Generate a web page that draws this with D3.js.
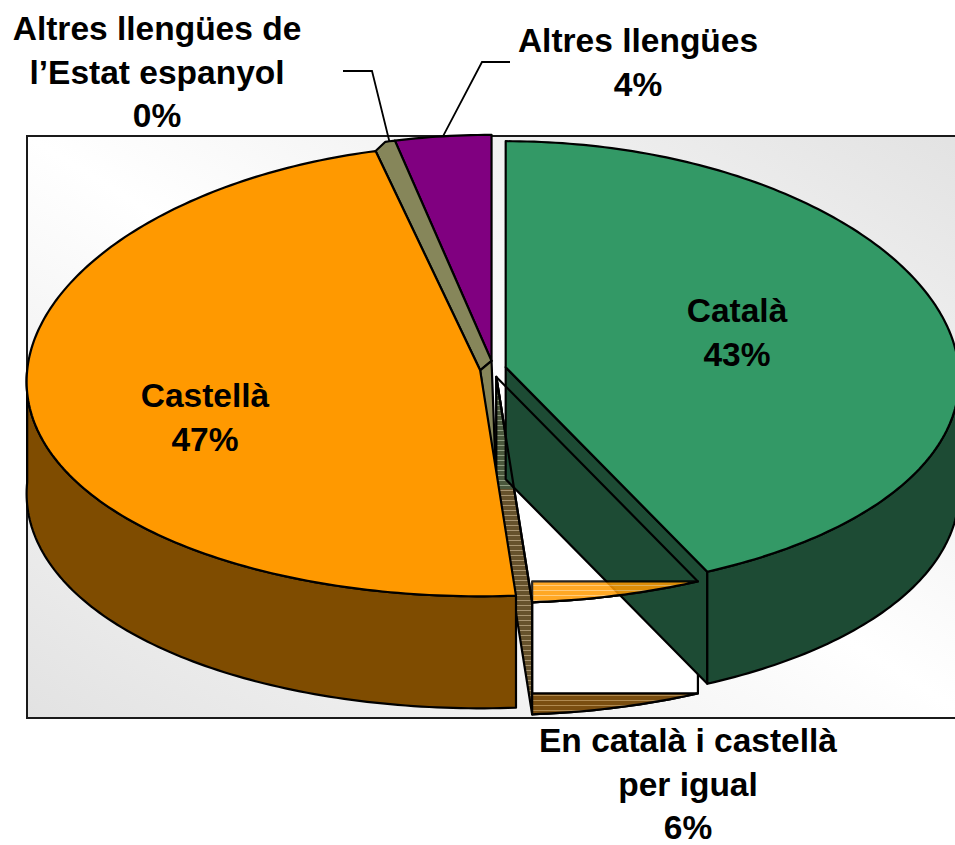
<!DOCTYPE html>
<html>
<head>
<meta charset="utf-8">
<script src="https://cdn.jsdelivr.net/npm/d3@7"></script>
<style>
  body { margin: 0; background: #fff; }
  svg { display: block; }
</style>
</head>
<body>
<div id="chart"></div>
<script>
// Data
const categories = ["Català", "En català i castellà per igual", "Castellà", "Altres llengües de l’Estat espanyol", "Altres llengües"];
const values = [43.0, 5.8, 47.3, 0.3, 3.6];
const labelLines = [["Català"], ["En català i castellà", "per igual"], ["Castellà"], ["Altres llengües de", "l’Estat espanyol"], ["Altres llengües"]];
const topColors = ["#339966", "#ffffff", "#ff9900", "#86865a", "#800080"];
const sideColors = ["#1d4b34", "#ffffff", "#7f4c00", "#86865a", "#4d004d"];

// Layout
const width = 955, height = 845;
const cx = 493, cy = 369, rx = 453, ry = 226, depth = 112, persp = 0.05;
const explode = 13, explodeK = 0.63;
const labelPos = [[737, 322], [688, 752], [205, 407], [157, 40], [638, 52]];
const lineH = 43.5;

const svg = d3.select("#chart").append("svg")
  .attr("width", width)
  .attr("height", height);

const defs = svg.append("defs");
const grad = defs.append("linearGradient").attr("id", "bg")
  .attr("x1", 0).attr("y1", 1).attr("x2", 1).attr("y2", 0);
grad.append("stop").attr("offset", 0).attr("stop-color", "#e2e2e2");
grad.append("stop").attr("offset", 0.5).attr("stop-color", "#ffffff");
grad.append("stop").attr("offset", 1).attr("stop-color", "#e2e2e2");

// striped fills (Excel style hatch on the white slice)
function stripes(id, base, light) {
  const p = defs.append("pattern").attr("id", id)
    .attr("patternUnits", "userSpaceOnUse").attr("width", 6).attr("height", 5);
  p.append("rect").attr("width", 6).attr("height", 5).attr("fill", base);
  p.append("rect").attr("width", 6).attr("height", 1).attr("fill", light);
}
stripes("hOrange", "#ff9900", "#ffc266");
stripes("hBrown", "#7a4e10", "#b08a50");
stripes("hOlive", "#4a583c", "#8f9c80");
stripes("hDark", "#66522c", "#a89470");

// plot area
svg.append("rect")
  .attr("x", 27).attr("y", 136).attr("width", 945).attr("height", 582)
  .attr("fill", "url(#bg)")
  .attr("stroke", "#1a1a1a").attr("stroke-width", 2);

const pie = d3.pie().sort(null).value(d => d)(values);
const slices = pie.map((p, i) => {
  const mid = (p.startAngle + p.endAngle) / 2;
  return {
    i: i, a: p.startAngle, b: p.endAngle, v: p.value,
    apex: [cx + explode * Math.sin(mid), cy - explode * Math.cos(mid) * explodeK]
  };
});

function rim(s, t, z) {
  return [s.apex[0] + rx * Math.sin(t) * (1 - persp * Math.cos(t)),
          s.apex[1] - ry * Math.cos(t) + (z || 0)];
}
function arcPts(s, a, b, z) {
  const n = Math.max(2, Math.ceil((b - a) * 60));
  return d3.range(n + 1).map(k => rim(s, a + (b - a) * k / n, z));
}
const down = (p) => [p[0], p[1] + depth];
const line = d3.line();

const g = svg.append("g");
function face(pts, fill, stroke) {
  return g.append("path")
    .attr("d", line(pts) + "Z")
    .attr("fill", fill)
    .attr("stroke", stroke === undefined ? "#000" : stroke)
    .attr("stroke-width", 2.2)
    .attr("stroke-linejoin", "round");
}
function topFace(s) { return [s.apex].concat(arcPts(s, s.a, s.b, 0)); }
function sideFace(s) {
  const a = Math.max(s.a, Math.PI / 2), b = Math.min(s.b, 3 * Math.PI / 2);
  if (b <= a) return null;
  return arcPts(s, a, b, 0).concat(arcPts(s, a, b, depth).reverse());
}
function cutFace(s, t) {
  const r = rim(s, t, 0);
  return [s.apex, r, down(r), down(s.apex)];
}
// rim band: arc closed by a level line at the height of its right end
function band(s, z) {
  const pts = arcPts(s, s.a, s.b, z);
  const first = pts[0], last = pts[pts.length - 1];
  return pts.concat([[last[0], first[1]]]);
}

const [cat, igual, cas, estat, altres] = slices;

// back slices
face(topFace(altres), topColors[4]);
face([cas.apex, rim(cas, cas.b)].concat(arcPts(estat, estat.a, estat.b, 0), [rim(altres, altres.a), altres.apex]), topColors[3]);
face([cas.apex, altres.apex, down(igual.apex)], sideColors[3]);

// white slice (drawn below its neighbours)
face(topFace(igual), topColors[1], "none");
face(sideFace(igual), sideColors[1]);
const strip = cutFace(igual, igual.b);
face(strip, "url(#hDark)");
defs.append("clipPath").attr("id", "stripTop")
  .append("rect").attr("x", 0).attr("y", 0).attr("width", width).attr("height", igual.apex[1] + depth);
face(strip, "url(#hOlive)").attr("clip-path", "url(#stripTop)");

// Català
face(cutFace(cat, cat.b), sideColors[0]);
face(sideFace(cat), sideColors[0]);
face(topFace(cat), topColors[0]);

// Castellà
face(sideFace(cas), sideColors[2]);
face(topFace(cas), topColors[2]);

// white slice outline and rim bands
face(topFace(igual), "none");
face(band(igual, 0), "url(#hOrange)").attr("opacity", 0.85);
face(band(igual, depth), "url(#hBrown)");

// leader lines
const leaders = [
  { s: estat, pts: [[343, 71], [372, 71]] },
  { s: altres, pts: [[510, 62], [482, 62]] }
];
leaders.forEach(l => {
  const m = (l.s.a + l.s.b) / 2;
  svg.append("path")
    .attr("d", line(l.pts.concat([rim(l.s, m, 0)])))
    .attr("fill", "none")
    .attr("stroke", "#000")
    .attr("stroke-width", 1.8);
});

// labels
slices.forEach((s, i) => {
  const lines = labelLines[i].concat([Math.round(values[i]) + "%"]);
  const t = svg.append("text")
    .attr("text-anchor", "middle")
    .attr("font-family", "'Liberation Sans', Arial, sans-serif")
    .attr("font-weight", "bold")
    .attr("font-size", 33.5)
    .attr("fill", "#000");
  lines.forEach((ln, k) => {
    t.append("tspan")
      .attr("x", labelPos[i][0])
      .attr("y", labelPos[i][1] + k * lineH)
      .text(ln);
  });
});
</script>
</body>
</html>
